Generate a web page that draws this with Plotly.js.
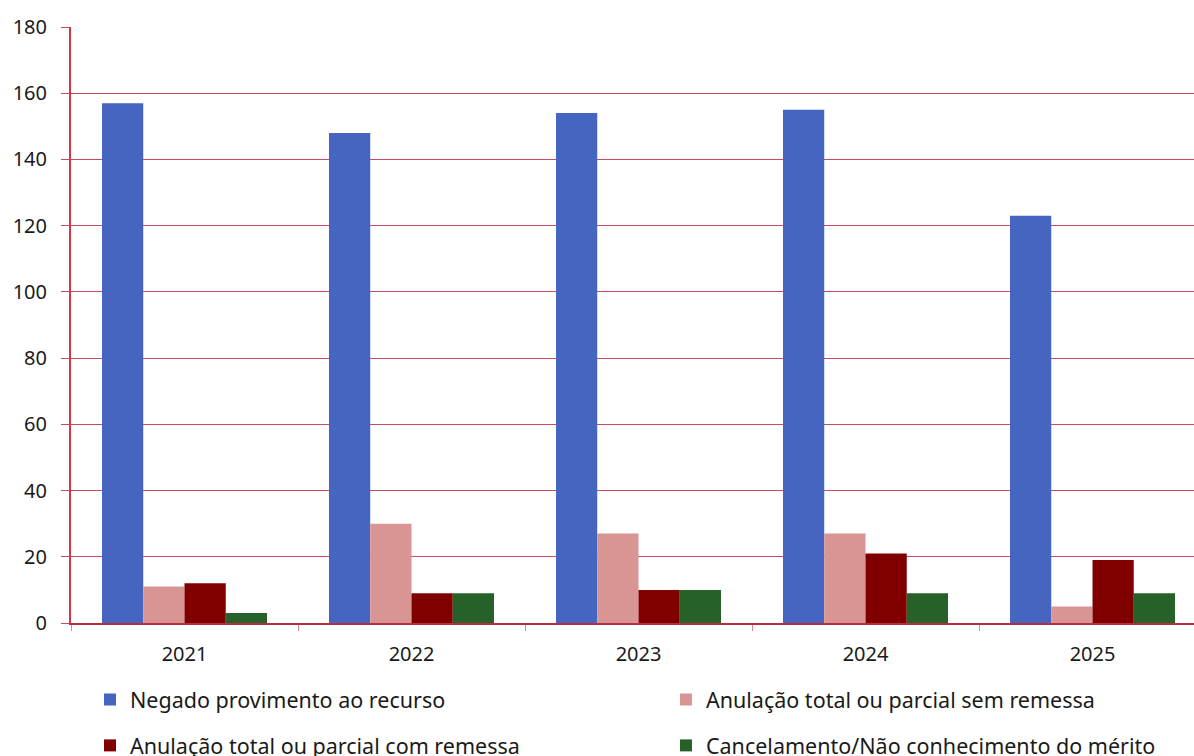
<!DOCTYPE html>
<html><head><meta charset="utf-8">
<script src="https://cdn.plot.ly/plotly-3.0.1.min.js"></script>
<style>html,body{margin:0;padding:0;overflow:hidden;width:1194px;height:756px;background:#fff}</style>
</head><body>
<div id="chart" style="width:1260px;height:820px"></div>
<script>
const years = ['2021','2022','2023','2024','2025'];
const negado = [157,148,154,155,123];
const semRemessa = [11,30,27,27,5];
const comRemessa = [12,9,10,21,19];
const cancelamento = [3,9,10,9,9];
const names = ['Negado provimento ao recurso','Anulação total ou parcial sem remessa','Anulação total ou parcial com remessa','Cancelamento/Não conhecimento do mérito'];
const colors = ['#4565c0','#d99594','#800000','#256129'];
const series = [negado, semRemessa, comRemessa, cancelamento];
const legends = ['legend','legend2','legend3','legend4'];
const data = series.map((s,i)=>({type:'bar', x:years, y:s, name:names[i], marker:{color:colors[i], line:{width:0}}, legend:legends[i]}));
const tf = {family:'Noto Sans, sans-serif', size:20, color:'#1a1a1a'};
const lf = {family:'Noto Sans, sans-serif', size:21.5, color:'#1a1a1a'};
const c1 = 0.01674, c2 = 0.5242, r1 = -0.094, r2 = -0.171;
function leg(x,y){return {orientation:'h', x:x, xanchor:'left', y:y, yanchor:'top', font:lf, bgcolor:'rgba(0,0,0,0)'};}
const layout = {
  width:1260, height:820,
  margin:{l:71, r:54, t:27, b:197},
  paper_bgcolor:'#fff', plot_bgcolor:'#fff',
  font:tf,
  barmode:'group', bargap:0.273, bargroupgap:0,
  xaxis:{type:'category', tickson:'boundaries', ticks:'outside', ticklen:6, tickcolor:'#e08890', showline:true, linecolor:'#b8303e', linewidth:1.5, showgrid:false, tickfont:tf, ticklabelstandoff:12},
  yaxis:{range:[0,180], dtick:20, ticks:'outside', ticklen:8, tickcolor:'#cc4a5a', showline:true, linecolor:'#cc3a48', linewidth:2, gridcolor:'#cc4a5a', gridwidth:1, zeroline:false, tickfont:tf, ticklabelstandoff:10},
  showlegend:true,
  legend:leg(c1,r1), legend2:leg(c2,r1), legend3:leg(c1,r2), legend4:leg(c2,r2)
};
Plotly.newPlot('chart', data, layout, {displayModeBar:false, staticPlot:true});
</script>
</body></html>
